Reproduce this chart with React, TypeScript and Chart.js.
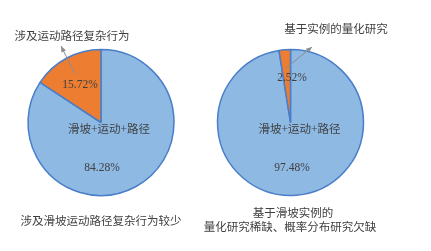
import React, { useEffect, useRef } from "react";
import { Chart, registerables } from "chart.js";

Chart.register(...registerables);

const leftCategories = ["滑坡+运动+路径", "涉及运动路径复杂行为"];
const leftValues = [84.28, 15.72];
const leftTitle = "涉及滑坡运动路径复杂行为较少";

const rightCategories = ["滑坡+运动+路径", "基于实例的量化研究"];
const rightValues = [97.48, 2.52];
const rightTitle = ["基于滑坡实例的", "量化研究稀缺、概率分布研究欠缺"];

const BLUE = "#8DB9E3";
const ORANGE = "#ED7D31";
const BORDER = "#4A7EC8";
const TEXT = "#404040";
const FONT = "11.5px 'Liberation Serif', 'Noto Sans CJK SC', serif";

type LabelSpec = {
  texts: { t: string; x: number; y: number }[];
  arrow: { x1: number; y1: number; x2: number; y2: number };
};

function makeLabelPlugin(spec: LabelSpec) {
  return {
    id: "labels",
    afterDraw(chart: any) {
      const ctx = chart.ctx as CanvasRenderingContext2D;
      ctx.save();
      ctx.font = FONT;
      ctx.fillStyle = TEXT;
      ctx.textAlign = "center";
      ctx.textBaseline = "middle";
      for (const s of spec.texts) ctx.fillText(s.t, s.x, s.y);
      const a = spec.arrow;
      ctx.strokeStyle = "#8C8C8C";
      ctx.fillStyle = "#8C8C8C";
      ctx.lineWidth = 1;
      ctx.beginPath();
      ctx.moveTo(a.x1, a.y1);
      ctx.lineTo(a.x2, a.y2);
      ctx.stroke();
      const ang = Math.atan2(a.y2 - a.y1, a.x2 - a.x1);
      const L = 6, W = 2.5;
      ctx.beginPath();
      ctx.moveTo(a.x2, a.y2);
      ctx.lineTo(a.x2 - L * Math.cos(ang) + W * Math.sin(ang), a.y2 - L * Math.sin(ang) - W * Math.cos(ang));
      ctx.lineTo(a.x2 - L * Math.cos(ang) - W * Math.sin(ang), a.y2 - L * Math.sin(ang) + W * Math.cos(ang));
      ctx.closePath();
      ctx.fill();
      ctx.restore();
    },
  };
}

function PieBox(props: {
  left: number;
  width: number;
  categories: string[];
  values: number[];
  padding: { left: number; right: number; top: number; bottom: number };
  spec: LabelSpec;
}) {
  const ref = useRef<HTMLCanvasElement>(null);
  useEffect(() => {
    if (!ref.current) return;
    const chart = new Chart(ref.current, {
      type: "pie",
      data: {
        labels: props.categories,
        datasets: [
          {
            data: props.values,
            backgroundColor: [BLUE, ORANGE],
            borderColor: BORDER,
            borderWidth: 1.5,
          },
        ],
      },
      options: {
        animation: false,
        responsive: false,
        radius: 73,
        layout: { padding: props.padding },
        plugins: { legend: { display: false }, tooltip: { enabled: false } },
      } as any,
      plugins: [makeLabelPlugin(props.spec)],
    });
    return () => chart.destroy();
  }, []);
  return (
    <canvas
      ref={ref}
      width={props.width}
      height={251}
      style={{ position: "absolute", left: props.left, top: 0, width: props.width, height: 251 }}
    />
  );
}

export default function App() {
  return (
    <div style={{ position: "relative", width: 431, height: 251, margin: -8, background: "#fff" }}>
      <PieBox
        left={0}
        width={195}
        categories={leftCategories}
        values={leftValues}
        padding={{ left: 7, right: 0, top: 0, bottom: 6 }}
        spec={{
          texts: [
            { t: leftCategories[1], x: 72, y: 37 },
            { t: leftValues[1].toFixed(2) + "%", x: 80, y: 85 },
            { t: leftCategories[0], x: 109, y: 130 },
            { t: leftValues[0].toFixed(2) + "%", x: 102, y: 168 },
            { t: leftTitle, x: 101, y: 222 },
          ],
          arrow: { x1: 75, y1: 74, x2: 61, y2: 46 },
        }}
      />
      <PieBox
        left={195}
        width={236}
        categories={rightCategories}
        values={rightValues}
        padding={{ left: 20, right: 65, top: 0, bottom: 6 }}
        spec={{
          texts: [
            { t: rightCategories[1], x: 141, y: 30 },
            { t: rightValues[1].toFixed(2) + "%", x: 97, y: 78 },
            { t: rightCategories[0], x: 104.5, y: 130 },
            { t: rightValues[0].toFixed(2) + "%", x: 97, y: 168 },
            { t: rightTitle[0], x: 98, y: 214 },
            { t: rightTitle[1], x: 95, y: 228 },
          ],
          arrow: { x1: 91, y1: 68, x2: 117, y2: 47 },
        }}
      />
    </div>
  );
}
